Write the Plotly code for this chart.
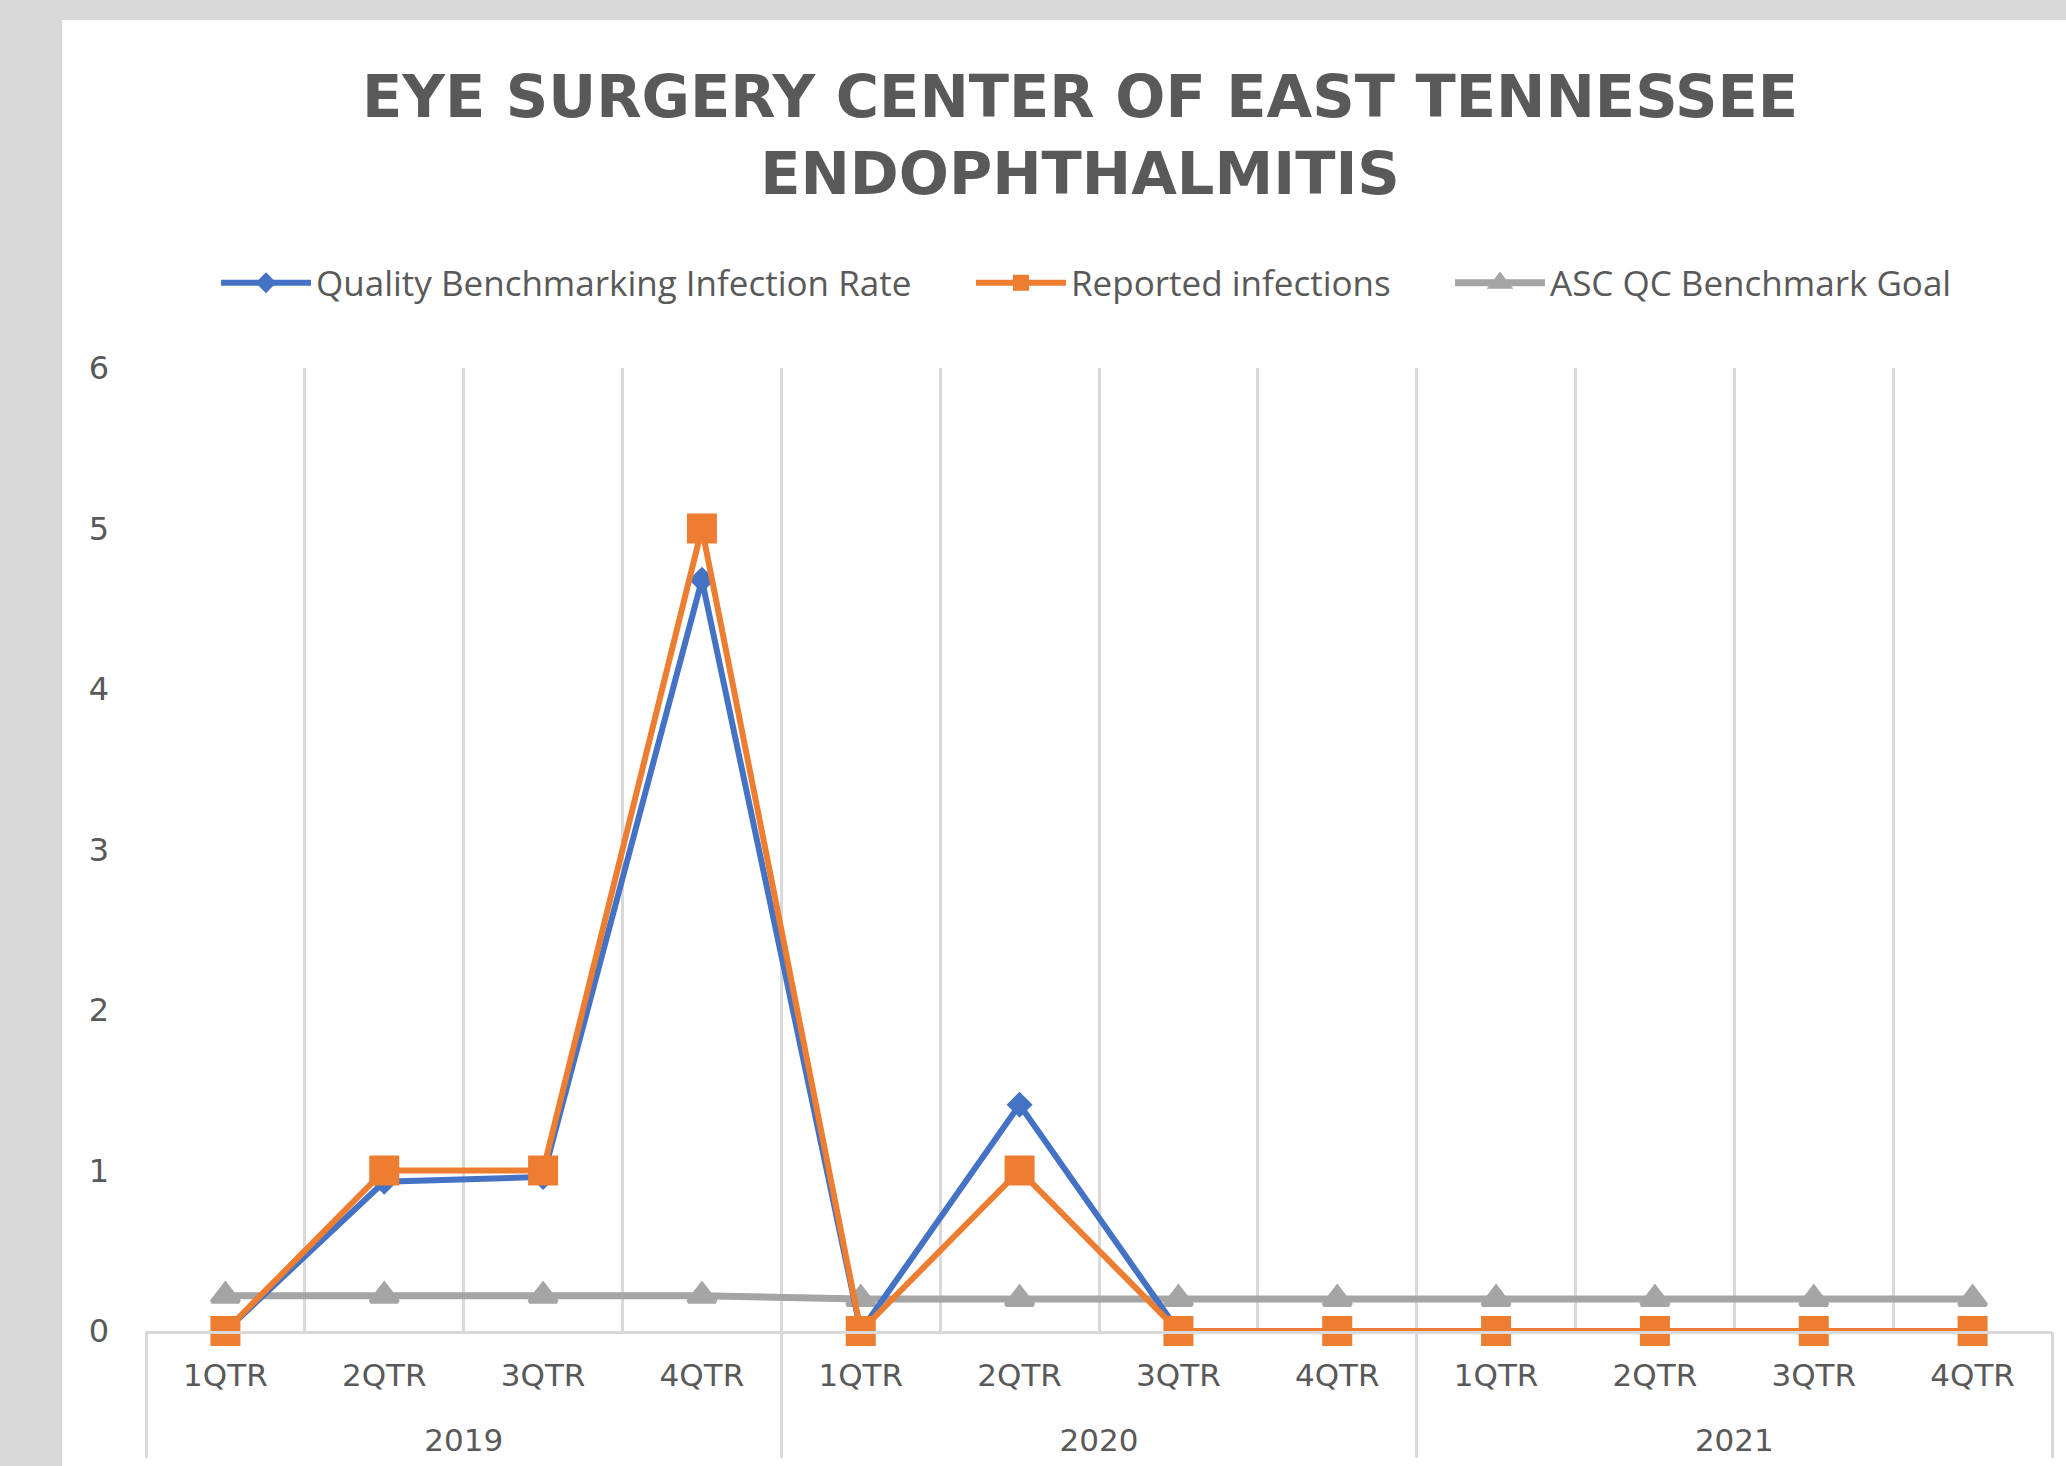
import plotly.graph_objects as go

years = ["2019"] * 4 + ["2020"] * 4 + ["2021"] * 4
quarters = ["1QTR", "2QTR", "3QTR", "4QTR"] * 3

infection_rate = [0, 0.93, 0.96, 4.68, 0, 1.41, 0, 0, 0, 0, 0, 0]
reported = [0, 1, 1, 5, 0, 1, 0, 0, 0, 0, 0, 0]
goal = [0.22, 0.22, 0.22, 0.22, 0.2, 0.2, 0.2, 0.2, 0.2, 0.2, 0.2, 0.2]

names = ["Quality Benchmarking Infection Rate", "Reported infections", "ASC QC Benchmark Goal"]
colors = ["#4472C4", "#ED7D31", "#A5A5A5"]

# unique category ids (year + quarter), labelled with the quarter name only
cat_ids = [f"{y} {q}" for y, q in zip(years, quarters)]
year_cats = list(dict.fromkeys(years))

W, H = 2066, 1466
L, R, T, B = 146, 14, 368, 135
pw, ph = W - L - R, H - T - B
grey = "#595959"
light = "#D9D9D9"

fig = go.Figure()
fig.add_trace(go.Scatter(
    x=cat_ids, y=goal, name=names[2], mode="lines+markers",
    line=dict(color=colors[2], width=7),
    marker=dict(symbol="triangle-up", size=24, color=colors[2],
                line=dict(color=colors[2], width=4)),
    cliponaxis=False, legend="legend3"))
fig.add_trace(go.Scatter(
    x=cat_ids, y=infection_rate, name=names[0], mode="lines+markers",
    line=dict(color=colors[0], width=6),
    marker=dict(symbol="diamond", size=20, color=colors[0]),
    cliponaxis=False, legend="legend"))
fig.add_trace(go.Scatter(
    x=cat_ids, y=reported, name=names[1], mode="lines+markers",
    line=dict(color=colors[1], width=6),
    marker=dict(symbol="square", size=30, color=colors[1]),
    cliponaxis=False, legend="legend2"))
# year axes carriers (draw nothing): x2 gives the group dividers, x3 the year labels
for ax in ("x2", "x3"):
    fig.add_trace(go.Scatter(
        x=years, y=[None] * len(years), xaxis=ax, mode="lines",
        showlegend=False, hoverinfo="skip"))

legend_common = dict(orientation="h", xref="container", yref="container",
                     xanchor="left", yanchor="middle",
                     font=dict(family="Open Sans", size=35, color=grey),
                     bgcolor="rgba(0,0,0,0)", itemwidth=90, visible=True)

year_axis = dict(type="category", categoryorder="array", categoryarray=year_cats,
                 overlaying="x", anchor="y", side="bottom",
                 range=[-0.5, len(year_cats) - 0.5], tickson="boundaries",
                 showgrid=False, showline=False, zeroline=False,
                 tickfont=dict(family="DejaVu Sans", size=31, color=grey))

fig.update_layout(
    width=W, height=H, showlegend=True,
    paper_bgcolor=light, plot_bgcolor="white",
    margin=dict(l=L, r=R, t=T, b=B, autoexpand=False),
    title=dict(
        text="EYE SURGERY CENTER OF EAST TENNESSEE<br>ENDOPHTHALMITIS",
        font=dict(family="DejaVu Sans", size=59, color=grey, weight="bold"),
        xref="container", yref="container", x=1080 / W, xanchor="center",
        y=1 - 117 / H, yanchor="top"),
    legend=dict(x=216 / W, y=1 - 283 / H, **legend_common),
    legend2=dict(x=971 / W, y=1 - 283 / H, **legend_common),
    legend3=dict(x=1450 / W, y=1 - 283 / H, **legend_common),
    shapes=[dict(type="rect", xref="paper", yref="paper", layer="below",
                 x0=(62 - L) / pw, x1=(W - L) / pw,
                 y0=-B / ph, y1=(T + ph - 20) / ph,
                 fillcolor="white", line=dict(width=0))],
    xaxis=dict(
        type="category", categoryorder="array", categoryarray=cat_ids,
        tickmode="array", tickvals=cat_ids, ticktext=quarters,
        range=[-0.5, len(cat_ids) - 0.5], tickson="boundaries",
        showgrid=True, gridcolor=light, gridwidth=3,
        showline=True, linecolor=light, linewidth=3,
        ticks="", ticklabelstandoff=15,
        tickfont=dict(family="DejaVu Sans", size=31, color=grey),
        zeroline=False),
    xaxis2=dict(ticks="outside", ticklen=126, tickwidth=3, tickcolor=light,
                showticklabels=False, **year_axis),
    xaxis3=dict(ticks="", ticklabelstandoff=88, showticklabels=True, **year_axis),
    yaxis=dict(
        range=[0, 6], dtick=1, showgrid=False, zeroline=False, showline=False,
        ticks="", ticklabelstandoff=36,
        tickfont=dict(family="DejaVu Sans", size=32, color=grey)),
)

fig.write_html(
    "out.html",
    config={"displayModeBar": False},
    post_script="document.body.style.margin='0';document.body.style.background='#D9D9D9';")
